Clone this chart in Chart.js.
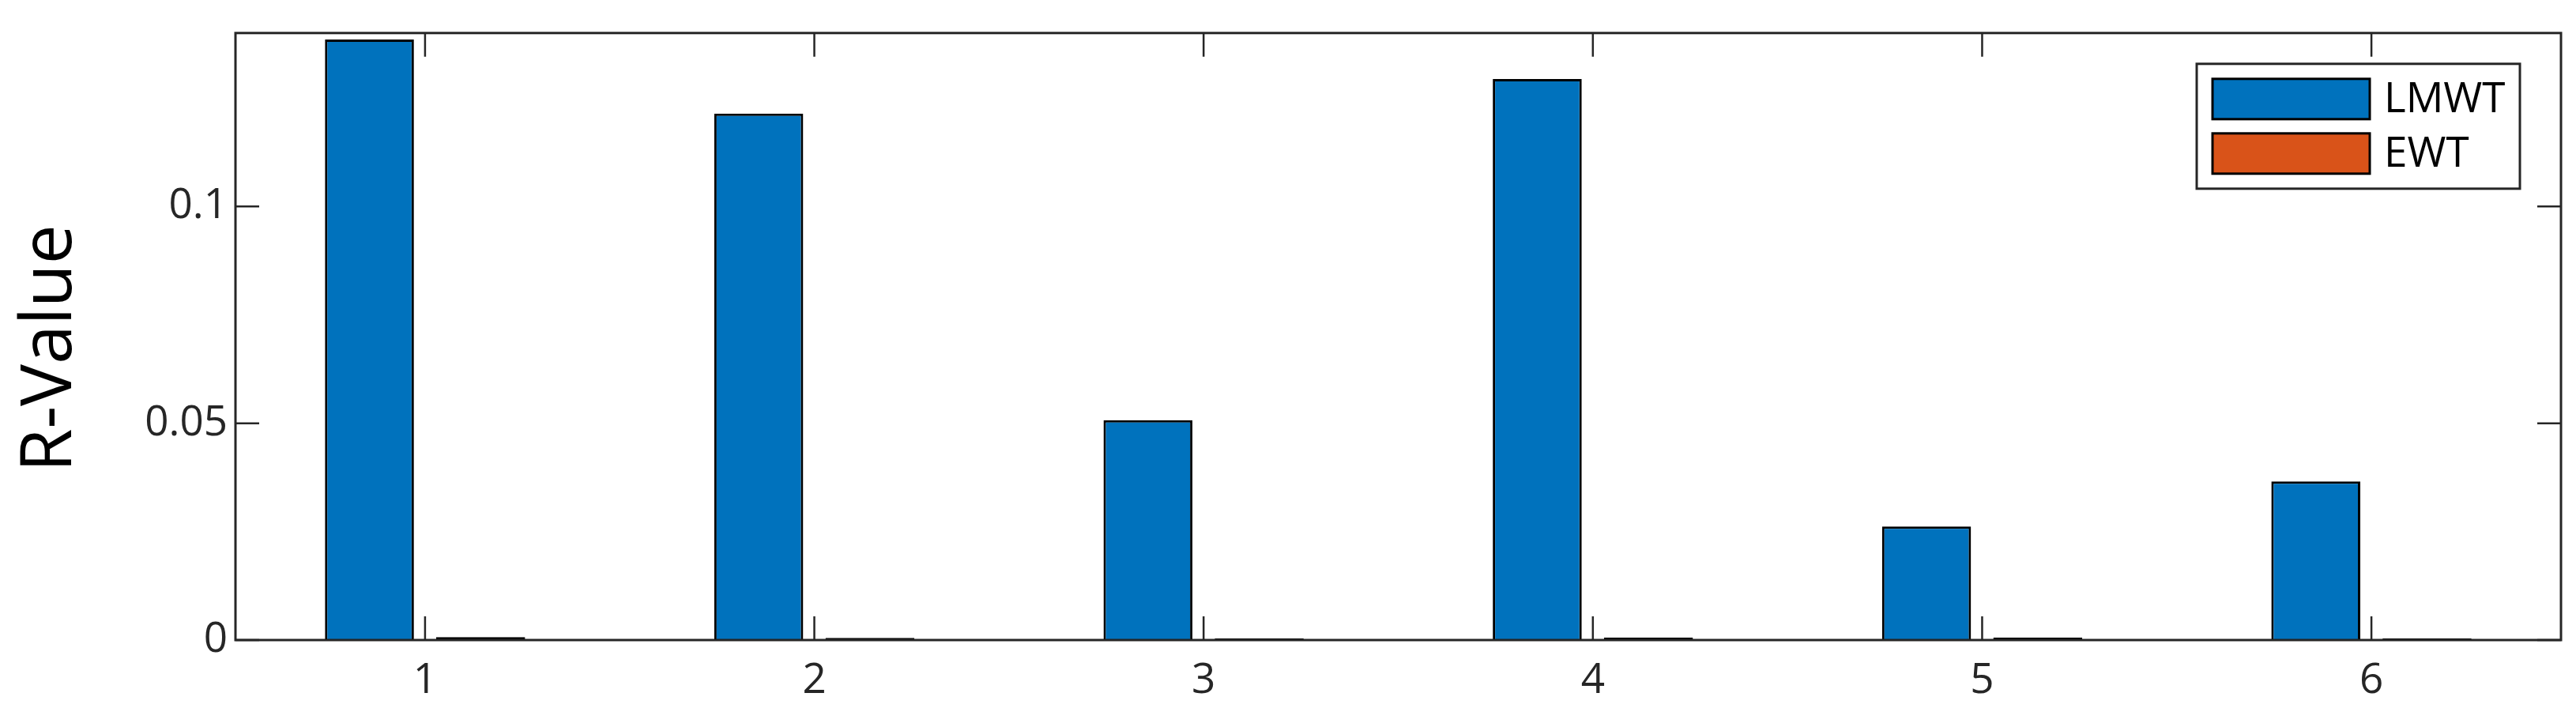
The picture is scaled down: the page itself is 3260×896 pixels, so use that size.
<!DOCTYPE html>
<html>
<head>
<meta charset="utf-8">
<script src="https://cdn.jsdelivr.net/npm/chart.js@4"></script>
<style>
  html, body { margin: 0; padding: 0; background: #fff; }
  #wrap { width: 3260px; height: 896px; }
</style>
</head>
<body>
<div id="wrap"><canvas id="chart" width="3260" height="896"></canvas></div>
<script>
// data
const categories = ['1', '2', '3', '4', '5', '6'];
const seriesNames = ['LMWT', 'EWT'];
const lmwtValues = [0.1385, 0.1214, 0.0507, 0.1294, 0.0262, 0.0366];
const ewtValues = [0.0007, 0.0005, 0.0004, 0.0006, 0.0006, 0.0004];
const yTicks = [0, 0.05, 0.1];
const yMax = 0.14;
const xMin = 0.513, xMax = 6.487;

const seriesColors = ['#0072BD', '#D95319'];
const axisColor = '#262626';
const tickLen = 30;
const fontFamily = "'Open Sans', 'Noto Sans', sans-serif";

Chart.defaults.font.family = fontFamily;

const xPositions = categories.map(Number);
const toPoints = (vals) => vals.map((v, i) => ({ x: xPositions[i], y: v }));

// box around the axes, inward ticks on all sides, y title and the legend box
const frameAndTicks = {
  id: 'frameAndTicks',
  afterDatasetsDraw(chart) {
    const { ctx, chartArea: a, scales: { x, y } } = chart;
    ctx.save();
    ctx.strokeStyle = axisColor;
    ctx.lineWidth = 3;
    ctx.strokeRect(a.left, a.top, a.right - a.left, a.bottom - a.top);

    ctx.lineWidth = 2.5;
    ctx.beginPath();
    x.ticks.forEach(t => {
      const px = x.getPixelForValue(t.value);
      ctx.moveTo(px, a.bottom); ctx.lineTo(px, a.bottom - tickLen);
      ctx.moveTo(px, a.top); ctx.lineTo(px, a.top + tickLen);
    });
    y.ticks.forEach(t => {
      const py = y.getPixelForValue(t.value);
      ctx.moveTo(a.left, py); ctx.lineTo(a.left + tickLen, py);
      ctx.moveTo(a.right, py); ctx.lineTo(a.right - tickLen, py);
    });
    ctx.stroke();

    // y axis title
    ctx.save();
    ctx.translate(90, (a.top + a.bottom) / 2 + 15);
    ctx.rotate(-Math.PI / 2);
    ctx.font = '89px ' + fontFamily;
    ctx.fillStyle = '#000';
    ctx.textAlign = 'center';
    ctx.textBaseline = 'alphabetic';
    ctx.fillText('R-Value', 0, 0);
    ctx.restore();

    // legend
    const boxW = 409, boxH = 158;
    const bx = a.right - 52 - boxW;
    const by = a.top + 39;
    ctx.fillStyle = '#fff';
    ctx.fillRect(bx, by, boxW, boxH);
    ctx.lineWidth = 3;
    ctx.strokeStyle = axisColor;
    ctx.strokeRect(bx, by, boxW, boxH);

    ctx.font = '53px ' + fontFamily;
    ctx.textBaseline = 'middle';
    ctx.textAlign = 'left';
    chart.data.datasets.forEach((ds, i) => {
      const px = bx + 20, py = by + 19 + i * 69;
      ctx.fillStyle = ds.backgroundColor;
      ctx.fillRect(px, py, 199, 51);
      ctx.lineWidth = 3;
      ctx.strokeStyle = '#000';
      ctx.strokeRect(px, py, 199, 51);
      ctx.fillStyle = '#000';
      ctx.fillText(ds.label, px + 199 + 18, py + 27);
    });
    ctx.restore();
  }
};

new Chart(document.getElementById('chart'), {
  type: 'bar',
  data: {
    datasets: [
      {
        label: seriesNames[0],
        data: toPoints(lmwtValues),
        backgroundColor: seriesColors[0],
        borderColor: '#000',
        borderWidth: 3,
        borderSkipped: 'start'
      },
      {
        label: seriesNames[1],
        data: toPoints(ewtValues),
        backgroundColor: seriesColors[1],
        borderColor: '#000',
        borderWidth: 3,
        borderSkipped: false
      }
    ]
  },
  options: {
    responsive: false,
    devicePixelRatio: 1,
    animation: false,
    categoryPercentage: 2 / 3.5,
    barPercentage: 0.8,
    layout: { padding: { left: 0, right: 19, top: 36, bottom: 0 } },
    plugins: {
      legend: { display: false },
      tooltip: { enabled: false }
    },
    scales: {
      x: {
        type: 'linear',
        offset: false,
        min: xMin,
        max: xMax,
        grid: { display: false, drawTicks: false },
        border: { display: false },
        afterBuildTicks: (scale) => { scale.ticks = xPositions.map(v => ({ value: v })); },
        ticks: {
          color: axisColor,
          font: { size: 53 },
          padding: 20,
          maxRotation: 0,
          callback: (v, i) => categories[i]
        },
        afterFit: (scale) => { scale.height = 86; }
      },
      y: {
        min: 0,
        max: yMax,
        grid: { display: false, drawTicks: false },
        border: { display: false },
        afterBuildTicks: (scale) => { scale.ticks = yTicks.map(v => ({ value: v })); },
        ticks: {
          color: axisColor,
          font: { size: 53 },
          padding: 10,
          callback: (v) => String(v)
        },
        afterFit: (scale) => { scale.width = 298; }
      }
    }
  },
  plugins: [frameAndTicks]
});
</script>
</body>
</html>
